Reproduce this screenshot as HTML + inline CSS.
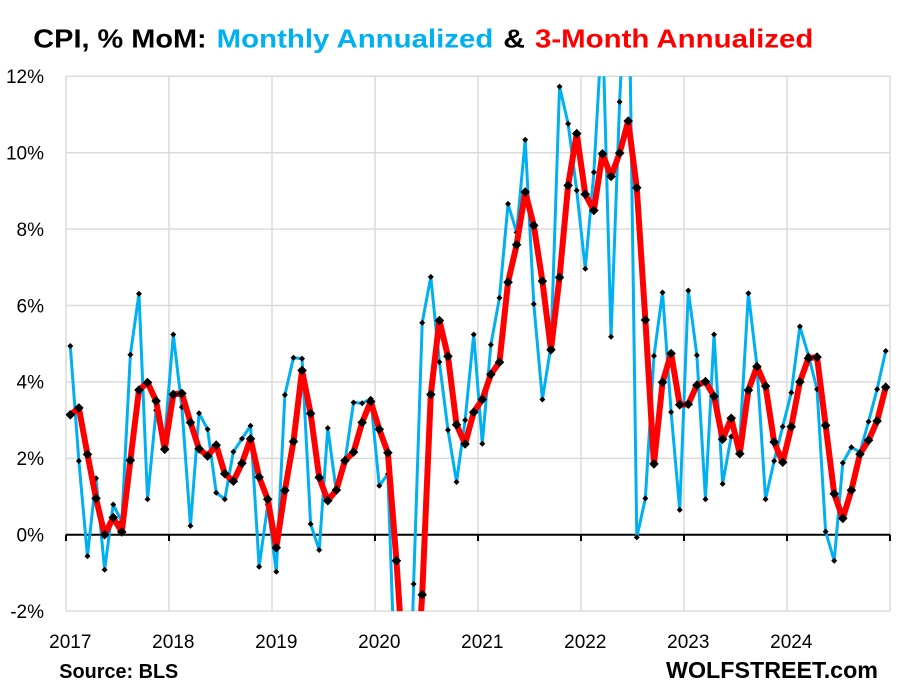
<!DOCTYPE html>
<html><head><meta charset="utf-8"><style>
html,body{margin:0;padding:0;background:#fff;width:907px;height:697px;overflow:hidden;}
svg{display:block;overflow:hidden;}
text{font-family:"Liberation Sans",Arial,sans-serif;}
</style></head><body>
<svg width="907" height="697" viewBox="0 0 907 697" xmlns="http://www.w3.org/2000/svg">
<defs>
<clipPath id="pc"><rect x="66" y="76.3" width="824" height="534.8"/></clipPath>
<path id="d1" d="M0,-3L3,0L0,3L-3,0Z" fill="#000"/>
<path id="d2" d="M0,-4.8L4.8,0L0,4.8L-4.8,0Z" fill="#000"/>
</defs>
<rect width="907" height="697" fill="#fff"/>
<!-- title -->
<g font-weight="bold" font-size="26">
<text x="33.3" y="47.5" fill="#000" textLength="173.4" lengthAdjust="spacingAndGlyphs">CPI, % MoM:</text>
<text x="216.7" y="47.5" fill="#00B0F0" textLength="276.6" lengthAdjust="spacingAndGlyphs">Monthly Annualized</text>
<text x="503.3" y="47.5" fill="#000" textLength="21.7" lengthAdjust="spacingAndGlyphs">&amp;</text>
<text x="535" y="47.5" fill="#FF0000" textLength="278.3" lengthAdjust="spacingAndGlyphs">3-Month Annualized</text>
</g>
<!-- grid -->
<g stroke="#D9D9D9" stroke-width="1.4" fill="none">
<line x1="66" y1="76.3" x2="890" y2="76.3"/>
<line x1="66" y1="152.7" x2="890" y2="152.7"/>
<line x1="66" y1="229.1" x2="890" y2="229.1"/>
<line x1="66" y1="305.5" x2="890" y2="305.5"/>
<line x1="66" y1="381.9" x2="890" y2="381.9"/>
<line x1="66" y1="458.3" x2="890" y2="458.3"/>
<line x1="66" y1="611.1" x2="890" y2="611.1"/>
<line x1="66" y1="76.3" x2="66" y2="611.1"/>
<line x1="169" y1="76.3" x2="169" y2="611.1"/>
<line x1="272" y1="76.3" x2="272" y2="611.1"/>
<line x1="375" y1="76.3" x2="375" y2="611.1"/>
<line x1="478" y1="76.3" x2="478" y2="611.1"/>
<line x1="581" y1="76.3" x2="581" y2="611.1"/>
<line x1="684" y1="76.3" x2="684" y2="611.1"/>
<line x1="787" y1="76.3" x2="787" y2="611.1"/>
<line x1="890" y1="76.3" x2="890" y2="611.1"/>
</g>
<!-- zero axis -->
<g stroke="#000" stroke-width="2">
<line x1="66" y1="534.7" x2="890" y2="534.7"/>
<line x1="66" y1="534.7" x2="66" y2="541"/>
<line x1="169" y1="534.7" x2="169" y2="541"/>
<line x1="272" y1="534.7" x2="272" y2="541"/>
<line x1="375" y1="534.7" x2="375" y2="541"/>
<line x1="478" y1="534.7" x2="478" y2="541"/>
<line x1="581" y1="534.7" x2="581" y2="541"/>
<line x1="684" y1="534.7" x2="684" y2="541"/>
<line x1="787" y1="534.7" x2="787" y2="541"/>
<line x1="890" y1="534.7" x2="890" y2="541"/>
</g>
<!-- y labels -->
<g font-size="19" fill="#000" text-anchor="end">
<text x="44" y="83.1">12%</text>
<text x="44" y="159.5">10%</text>
<text x="44" y="235.9">8%</text>
<text x="44" y="312.3">6%</text>
<text x="44" y="388.7">4%</text>
<text x="44" y="465.1">2%</text>
<text x="44" y="541.5">0%</text>
<text x="44" y="617.9">-2%</text>
</g>
<!-- x labels -->
<g font-size="19" fill="#000" text-anchor="middle">
<text x="70.3" y="648">2017</text>
<text x="173.3" y="648">2018</text>
<text x="276.3" y="648">2019</text>
<text x="379.3" y="648">2020</text>
<text x="482.3" y="648">2021</text>
<text x="585.3" y="648">2022</text>
<text x="688.3" y="648">2023</text>
<text x="791.3" y="648">2024</text>
</g>
<text x="59.3" y="678" font-size="20" font-weight="bold" fill="#000" textLength="119" lengthAdjust="spacingAndGlyphs">Source: BLS</text>
<text x="666" y="678" font-size="23" font-weight="bold" fill="#000" textLength="212" lengthAdjust="spacingAndGlyphs">WOLFSTREET.com</text>
<g clip-path="url(#pc)">
<!-- blue monthly -->
<polyline fill="none" stroke="#00B0F0" stroke-width="3" stroke-linejoin="round" points="70.29,346.0 78.87,461.0 87.46,556.1 96.04,478.2 104.62,569.8 113.21,504.5 121.79,521.7 130.37,354.8 138.96,293.7 147.54,499.2 156.12,410.2 164.71,438.4 173.29,334.5 181.87,407.1 190.46,525.9 199.04,413.2 207.62,429.3 216.21,492.7 224.79,499.2 233.37,451.8 241.96,438.8 250.54,425.8 259.12,566.8 267.71,504.9 276.29,571.8 284.87,394.9 293.46,357.8 302.04,358.6 310.62,524.0 319.21,550.0 327.79,428.1 336.37,491.9 344.96,461.7 353.54,402.5 362.12,403.3 370.71,398.7 379.29,485.8 387.87,474.0 393.09,625 412.42,625 413.62,584.0 422.21,322.7 430.79,276.9 439.37,362.0 447.96,430.0 456.54,482.0 465.12,420.1 473.71,334.5 482.29,443.8 490.87,344.8 499.46,297.9 508.04,203.9 516.62,232.5 525.21,139.7 533.79,304.0 542.37,399.5 550.96,346.0 559.54,86.6 568.12,123.7 576.71,190.5 585.29,268.8 593.87,172.2 602.46,20.5 611.04,336.8 619.62,101.9 621.65,60 630.11,60 636.79,537.4 645.37,498.4 653.96,355.9 662.54,292.5 671.12,412.1 679.71,509.9 688.29,290.6 696.87,355.2 705.46,499.2 714.04,334.5 722.62,483.9 731.21,436.5 739.79,440.7 748.37,293.3 756.96,365.9 765.54,499.2 774.12,461.0 782.71,426.6 791.29,392.6 799.87,326.5 808.46,355.5 817.04,389.2 825.62,531.6 834.21,560.7 842.79,462.9 851.37,447.2 859.96,452.2 868.54,421.6 877.12,389.2 885.71,351.0"/>
<g>
<use href="#d1" x="70.29" y="346.0"/><use href="#d1" x="78.87" y="461.0"/><use href="#d1" x="87.46" y="556.1"/><use href="#d1" x="96.04" y="478.2"/><use href="#d1" x="104.62" y="569.8"/><use href="#d1" x="113.21" y="504.5"/><use href="#d1" x="121.79" y="521.7"/><use href="#d1" x="130.37" y="354.8"/><use href="#d1" x="138.96" y="293.7"/><use href="#d1" x="147.54" y="499.2"/><use href="#d1" x="156.12" y="410.2"/><use href="#d1" x="164.71" y="438.4"/>
<use href="#d1" x="173.29" y="334.5"/><use href="#d1" x="181.87" y="407.1"/><use href="#d1" x="190.46" y="525.9"/><use href="#d1" x="199.04" y="413.2"/><use href="#d1" x="207.62" y="429.3"/><use href="#d1" x="216.21" y="492.7"/><use href="#d1" x="224.79" y="499.2"/><use href="#d1" x="233.37" y="451.8"/><use href="#d1" x="241.96" y="438.8"/><use href="#d1" x="250.54" y="425.8"/><use href="#d1" x="259.12" y="566.8"/><use href="#d1" x="267.71" y="504.9"/>
<use href="#d1" x="276.29" y="571.8"/><use href="#d1" x="284.87" y="394.9"/><use href="#d1" x="293.46" y="357.8"/><use href="#d1" x="302.04" y="358.6"/><use href="#d1" x="310.62" y="524.0"/><use href="#d1" x="319.21" y="550.0"/><use href="#d1" x="327.79" y="428.1"/><use href="#d1" x="336.37" y="491.9"/><use href="#d1" x="344.96" y="461.7"/><use href="#d1" x="353.54" y="402.5"/><use href="#d1" x="362.12" y="403.3"/><use href="#d1" x="370.71" y="398.7"/>
<use href="#d1" x="379.29" y="485.8"/><use href="#d1" x="387.87" y="474.0"/><use href="#d1" x="413.62" y="584.0"/><use href="#d1" x="422.21" y="322.7"/><use href="#d1" x="430.79" y="276.9"/><use href="#d1" x="439.37" y="362.0"/><use href="#d1" x="447.96" y="430.0"/><use href="#d1" x="456.54" y="482.0"/><use href="#d1" x="465.12" y="420.1"/><use href="#d1" x="473.71" y="334.5"/>
<use href="#d1" x="482.29" y="443.8"/><use href="#d1" x="490.87" y="344.8"/><use href="#d1" x="499.46" y="297.9"/><use href="#d1" x="508.04" y="203.9"/><use href="#d1" x="516.62" y="232.5"/><use href="#d1" x="525.21" y="139.7"/><use href="#d1" x="533.79" y="304.0"/><use href="#d1" x="542.37" y="399.5"/><use href="#d1" x="550.96" y="346.0"/><use href="#d1" x="559.54" y="86.6"/><use href="#d1" x="568.12" y="123.7"/><use href="#d1" x="576.71" y="190.5"/>
<use href="#d1" x="585.29" y="268.8"/><use href="#d1" x="593.87" y="172.2"/><use href="#d1" x="611.04" y="336.8"/><use href="#d1" x="619.62" y="101.9"/><use href="#d1" x="636.79" y="537.4"/><use href="#d1" x="645.37" y="498.4"/><use href="#d1" x="653.96" y="355.9"/><use href="#d1" x="662.54" y="292.5"/><use href="#d1" x="671.12" y="412.1"/><use href="#d1" x="679.71" y="509.9"/>
<use href="#d1" x="688.29" y="290.6"/><use href="#d1" x="696.87" y="355.2"/><use href="#d1" x="705.46" y="499.2"/><use href="#d1" x="714.04" y="334.5"/><use href="#d1" x="722.62" y="483.9"/><use href="#d1" x="731.21" y="436.5"/><use href="#d1" x="739.79" y="440.7"/><use href="#d1" x="748.37" y="293.3"/><use href="#d1" x="756.96" y="365.9"/><use href="#d1" x="765.54" y="499.2"/><use href="#d1" x="774.12" y="461.0"/><use href="#d1" x="782.71" y="426.6"/>
<use href="#d1" x="791.29" y="392.6"/><use href="#d1" x="799.87" y="326.5"/><use href="#d1" x="808.46" y="355.5"/><use href="#d1" x="817.04" y="389.2"/><use href="#d1" x="825.62" y="531.6"/><use href="#d1" x="834.21" y="560.7"/><use href="#d1" x="842.79" y="462.9"/><use href="#d1" x="851.37" y="447.2"/><use href="#d1" x="859.96" y="452.2"/><use href="#d1" x="868.54" y="421.6"/><use href="#d1" x="877.12" y="389.2"/><use href="#d1" x="885.71" y="351.0"/>
</g>
<!-- red 3-month -->
<polyline fill="none" stroke="#FF0000" stroke-width="6" stroke-linejoin="round" stroke-linecap="round" points="70.29,414.8 78.87,407.9 87.46,454.4 96.04,498.4 104.62,534.7 113.21,517.5 121.79,532.0 130.37,460.3 138.96,390.0 147.54,382.5 156.12,401.0 164.71,449.3 173.29,394.4 181.87,393.4 190.46,422.5 199.04,448.8 207.62,456.1 216.21,445.1 224.79,473.7 233.37,481.2 241.96,463.3 250.54,438.8 259.12,477.1 267.71,499.2 276.29,547.8 284.87,490.5 293.46,441.5 302.04,370.4 310.62,413.5 319.21,477.5 327.79,500.7 336.37,490.0 344.96,460.6 353.54,452.1 362.12,422.5 370.71,401.5 379.29,429.3 387.87,452.8 396.46,560.7 401.02,630 419.93,630 422.21,594.7 430.79,394.5 439.37,320.5 447.96,356.3 456.54,424.7 465.12,444.0 473.71,412.2 482.29,399.5 490.87,374.4 499.46,362.2 508.04,282.2 516.62,244.8 525.21,192.0 533.79,225.4 542.37,281.1 550.96,349.8 559.54,277.4 568.12,185.4 576.71,133.6 585.29,194.3 593.87,210.5 602.46,153.8 611.04,176.5 619.62,153.1 628.21,121.0 636.79,187.8 645.37,320.0 653.96,463.9 662.54,382.3 671.12,353.5 679.71,404.8 688.29,404.2 696.87,385.2 705.46,381.6 714.04,396.3 722.62,439.2 731.21,418.3 739.79,453.7 748.37,390.2 756.96,366.6 765.54,386.1 774.12,442.0 782.71,462.2 791.29,426.7 799.87,381.9 808.46,358.2 817.04,357.1 825.62,425.4 834.21,493.8 842.79,518.4 851.37,490.3 859.96,454.1 868.54,440.3 877.12,421.0 885.71,387.2"/>
<g>
<use href="#d2" x="70.29" y="414.8"/><use href="#d2" x="78.87" y="407.9"/><use href="#d2" x="87.46" y="454.4"/><use href="#d2" x="96.04" y="498.4"/><use href="#d2" x="104.62" y="534.7"/><use href="#d2" x="113.21" y="517.5"/><use href="#d2" x="121.79" y="532.0"/><use href="#d2" x="130.37" y="460.3"/><use href="#d2" x="138.96" y="390.0"/><use href="#d2" x="147.54" y="382.5"/><use href="#d2" x="156.12" y="401.0"/><use href="#d2" x="164.71" y="449.3"/>
<use href="#d2" x="173.29" y="394.4"/><use href="#d2" x="181.87" y="393.4"/><use href="#d2" x="190.46" y="422.5"/><use href="#d2" x="199.04" y="448.8"/><use href="#d2" x="207.62" y="456.1"/><use href="#d2" x="216.21" y="445.1"/><use href="#d2" x="224.79" y="473.7"/><use href="#d2" x="233.37" y="481.2"/><use href="#d2" x="241.96" y="463.3"/><use href="#d2" x="250.54" y="438.8"/><use href="#d2" x="259.12" y="477.1"/><use href="#d2" x="267.71" y="499.2"/>
<use href="#d2" x="276.29" y="547.8"/><use href="#d2" x="284.87" y="490.5"/><use href="#d2" x="293.46" y="441.5"/><use href="#d2" x="302.04" y="370.4"/><use href="#d2" x="310.62" y="413.5"/><use href="#d2" x="319.21" y="477.5"/><use href="#d2" x="327.79" y="500.7"/><use href="#d2" x="336.37" y="490.0"/><use href="#d2" x="344.96" y="460.6"/><use href="#d2" x="353.54" y="452.1"/><use href="#d2" x="362.12" y="422.5"/><use href="#d2" x="370.71" y="401.5"/>
<use href="#d2" x="379.29" y="429.3"/><use href="#d2" x="387.87" y="452.8"/><use href="#d2" x="396.46" y="560.7"/><use href="#d2" x="422.21" y="594.7"/><use href="#d2" x="430.79" y="394.5"/><use href="#d2" x="439.37" y="320.5"/><use href="#d2" x="447.96" y="356.3"/><use href="#d2" x="456.54" y="424.7"/><use href="#d2" x="465.12" y="444.0"/><use href="#d2" x="473.71" y="412.2"/>
<use href="#d2" x="482.29" y="399.5"/><use href="#d2" x="490.87" y="374.4"/><use href="#d2" x="499.46" y="362.2"/><use href="#d2" x="508.04" y="282.2"/><use href="#d2" x="516.62" y="244.8"/><use href="#d2" x="525.21" y="192.0"/><use href="#d2" x="533.79" y="225.4"/><use href="#d2" x="542.37" y="281.1"/><use href="#d2" x="550.96" y="349.8"/><use href="#d2" x="559.54" y="277.4"/><use href="#d2" x="568.12" y="185.4"/><use href="#d2" x="576.71" y="133.6"/>
<use href="#d2" x="585.29" y="194.3"/><use href="#d2" x="593.87" y="210.5"/><use href="#d2" x="602.46" y="153.8"/><use href="#d2" x="611.04" y="176.5"/><use href="#d2" x="619.62" y="153.1"/><use href="#d2" x="628.21" y="121.0"/><use href="#d2" x="636.79" y="187.8"/><use href="#d2" x="645.37" y="320.0"/><use href="#d2" x="653.96" y="463.9"/><use href="#d2" x="662.54" y="382.3"/><use href="#d2" x="671.12" y="353.5"/><use href="#d2" x="679.71" y="404.8"/>
<use href="#d2" x="688.29" y="404.2"/><use href="#d2" x="696.87" y="385.2"/><use href="#d2" x="705.46" y="381.6"/><use href="#d2" x="714.04" y="396.3"/><use href="#d2" x="722.62" y="439.2"/><use href="#d2" x="731.21" y="418.3"/><use href="#d2" x="739.79" y="453.7"/><use href="#d2" x="748.37" y="390.2"/><use href="#d2" x="756.96" y="366.6"/><use href="#d2" x="765.54" y="386.1"/><use href="#d2" x="774.12" y="442.0"/><use href="#d2" x="782.71" y="462.2"/>
<use href="#d2" x="791.29" y="426.7"/><use href="#d2" x="799.87" y="381.9"/><use href="#d2" x="808.46" y="358.2"/><use href="#d2" x="817.04" y="357.1"/><use href="#d2" x="825.62" y="425.4"/><use href="#d2" x="834.21" y="493.8"/><use href="#d2" x="842.79" y="518.4"/><use href="#d2" x="851.37" y="490.3"/><use href="#d2" x="859.96" y="454.1"/><use href="#d2" x="868.54" y="440.3"/><use href="#d2" x="877.12" y="421.0"/><use href="#d2" x="885.71" y="387.2"/>
</g>
</g>
</svg>
</body></html>
